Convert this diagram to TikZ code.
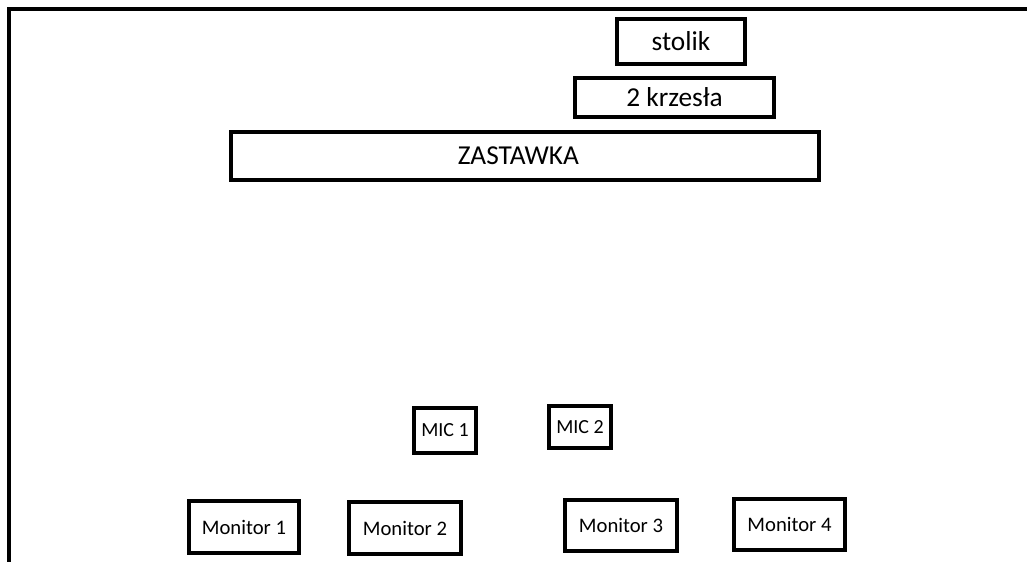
\documentclass[tikz,border=0pt]{standalone}
\usepackage{fontspec}
\setmainfont{Carlito}
\begin{document}
\begin{tikzpicture}[x=0.75pt,y=-0.75pt,
  box/.style={draw=black,line width=3pt,inner sep=0pt,fill=white},
  big/.style={box,font=\fontsize{20.5}{23}\selectfont},
  mon/.style={box,font=\fontsize{15.5}{18}\selectfont},
  mic/.style={box,font=\fontsize{15}{18}\selectfont}]
\useasboundingbox (0,0) rectangle (1027,561);
\fill[white] (0,0) rectangle (1027,561);
\draw[line width=3pt] (9,570) -- (9,8.5) -- (1040,8.5);
\node[big,minimum width=128*0.75pt,minimum height=45*0.75pt] (stolik) at (681,41.5) {stolik};
\node[big,minimum width=199*0.75pt,minimum height=39*0.75pt] (krzesla) at (674.5,97.5) {2 krzesła};
\node[big,minimum width=588*0.75pt,minimum height=48*0.75pt] (zastawka) at (525,156) {\hspace*{-10pt}ZASTAWKA};
\node[mic,minimum width=62*0.75pt,minimum height=45*0.75pt] (mic1) at (445,430.5) {MIC 1};
\node[mic,minimum width=62*0.75pt,minimum height=42*0.75pt] (mic2) at (580,427) {MIC 2};
\node[mon,minimum width=110*0.75pt,minimum height=52*0.75pt] (m1) at (244,527) {Monitor 1};
\node[mon,minimum width=112*0.75pt,minimum height=52*0.75pt] (m2) at (405,528) {Monitor 2};
\node[mon,minimum width=112*0.75pt,minimum height=51*0.75pt] (m3) at (621,525.5) {Monitor 3};
\node[mon,minimum width=111*0.75pt,minimum height=51*0.75pt] (m4) at (789.5,524.5) {Monitor 4};
\end{tikzpicture}
\end{document}
